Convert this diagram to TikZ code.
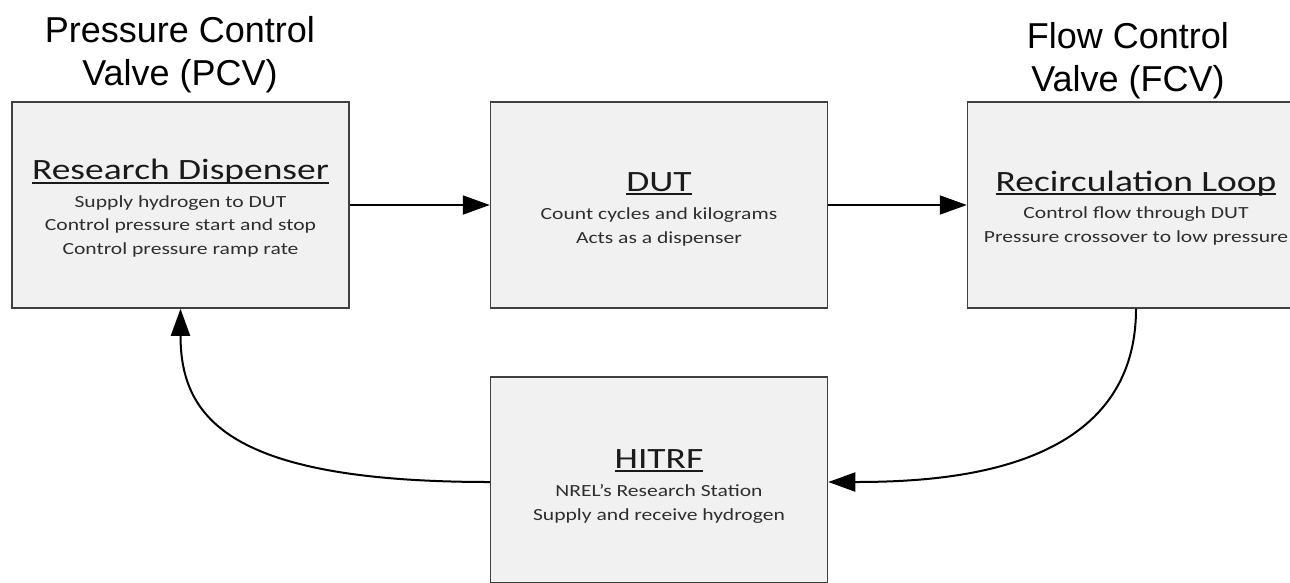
\documentclass[tikz,border=0pt]{standalone}
\usepackage{fontspec}
\setmainfont{Liberation Sans}
\newfontfamily\boxfont[FakeStretch=1.27]{Carlito}
\usetikzlibrary{arrows.meta}
\definecolor{boxfill}{HTML}{F1F1F1}
\definecolor{boxline}{HTML}{404040}
\definecolor{headc}{HTML}{1A1A1A}
\definecolor{bodyc}{HTML}{2E2E2E}
\newcommand\hdul[1]{\setbox0\hbox{#1}\rlap{\color{headc}\rule[-4pt]{\wd0}{2pt}}\box0}
\begin{document}
\begin{tikzpicture}[x=1pt,y=-1pt,
 blk/.style={draw=boxline,fill=boxfill,line width=1.5pt,minimum width=337pt,minimum height=206pt,inner sep=0pt},
 hd/.style={anchor=base,text=headc,font=\boxfont\fontsize{29.5}{32}\selectfont,inner sep=0pt},
 bd/.style={anchor=base,text=bodyc,font=\boxfont\fontsize{17}{23.5}\selectfont,align=center,inner sep=0pt},
 lab/.style={anchor=base,font=\fontsize{36}{43}\selectfont,align=center,inner sep=0pt},
 arr/.style={-{Triangle[length=27pt,width=19pt]},line width=2pt,black}]
\clip (0,0) rectangle (1290,582);
\node[lab] (pcv) at (180,85) {Pressure Control\\Valve (PCV)};
\node[lab] (fcv) at (1128,91) {Flow Control\\Valve (FCV)};
\node[blk] (rd) at (180.5,205) {};
\node[blk] (dut) at (659,205) {};
\node[blk] (rc) at (1136,205) {};
\node[blk] (hit) at (659,480) {};
\node[hd] (rdh) at (180.5,179.5) {\hdul{Research Dispenser}};
\node[bd] (rdb) at (180.5,254) {Supply hydrogen to DUT\\Control pressure start and stop\\Control pressure ramp rate};
\node[hd] (duth) at (659,191) {\hdul{DUT}};
\node[bd] (dutb) at (659,243) {Count cycles and kilograms\\Acts as a dispenser};
\node[hd] (rch) at (1136,191) {\hdul{Recirculation Loop}};
\node[bd] (rcb) at (1136,242) {Control flow through DUT\\Pressure crossover to low pressure};
\node[hd] (hith) at (659,468) {\hdul{HITRF}};
\node[bd] (hitb) at (659,520) {NREL’s Research Station\\Supply and receive hydrogen};
\draw[arr] (rd) -- (dut);
\draw[arr] (dut) -- (rc);
\draw[arr] (rc.south) .. controls +(0,162) and +(122,0) .. ([yshift=-2pt]hit.east);
\draw[arr] ([yshift=-2pt]hit.west) .. controls +(-260,0) and +(0,110) .. (rd.south);
\end{tikzpicture}
\end{document}
